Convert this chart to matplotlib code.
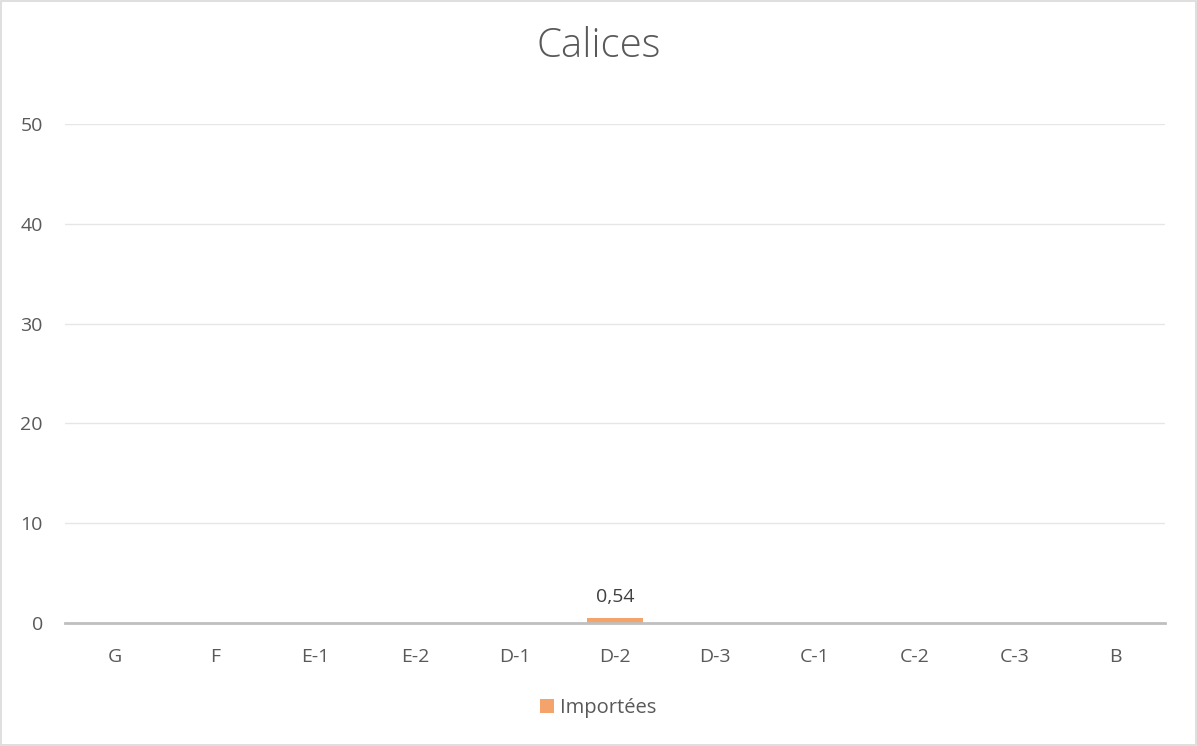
import matplotlib.pyplot as plt
from matplotlib.patches import Rectangle

# data
categories = ['G', 'F', 'E-1', 'E-2', 'D-1', 'D-2', 'D-3', 'C-1', 'C-2', 'C-3', 'B']
importees = [0, 0, 0, 0, 0, 0.54, 0, 0, 0, 0, 0]
labels = ['', '', '', '', '', '0,54', '', '', '', '', '']
yticks = [0, 10, 20, 30, 40, 50]

plt.rcParams['font.family'] = ['Open Sans', 'DejaVu Sans']
txt = '#595959'

fig = plt.figure(figsize=(11.97, 7.46), dpi=100)
ax = fig.add_axes([0.0543, 0.1649, 0.919, 0.669])

x = range(len(categories))
bars = ax.bar(x, importees, width=0.56, color='#F4A46A', label='Importées', zorder=3)
for b, lab in zip(bars, labels):
    if lab:
        ax.text(b.get_x() + b.get_width() / 2, b.get_height() + 1.2, lab,
                ha='center', va='bottom', fontsize=14, color='#404040')

ax.set_xlim(-0.5, len(categories) - 0.5)
ax.set_ylim(0, 50)
ax.set_yticks(yticks)
ax.set_xticks(list(x))
ax.set_xticklabels(categories)
ax.grid(axis='y', color='#E6E6E6', lw=1, zorder=0)
for s in ['top', 'right', 'left']:
    ax.spines[s].set_visible(False)
ax.spines['bottom'].set_color('#BFBFBF')
ax.spines['bottom'].set_linewidth(2)
ax.spines['bottom'].set_zorder(4)
ax.tick_params(axis='both', length=0, labelsize=14, labelcolor=txt)
ax.tick_params(axis='x', pad=18)
ax.tick_params(axis='y', pad=16)

fig.text(0.5, 0.937, 'Calices', ha='center', va='center', fontsize=29,
         color=txt, fontweight='light')
fig.legend(loc='center', bbox_to_anchor=(0.5, 0.051), frameon=False, fontsize=14.5,
           labelcolor=txt, handlelength=0.7, handleheight=0.7, handletextpad=0.3)

fig.patches.append(Rectangle((0.001, 0.001), 0.998, 0.997, transform=fig.transFigure,
                             fill=False, edgecolor='#D9D9D9', lw=1.2))

fig.savefig('out.png', dpi=100)
